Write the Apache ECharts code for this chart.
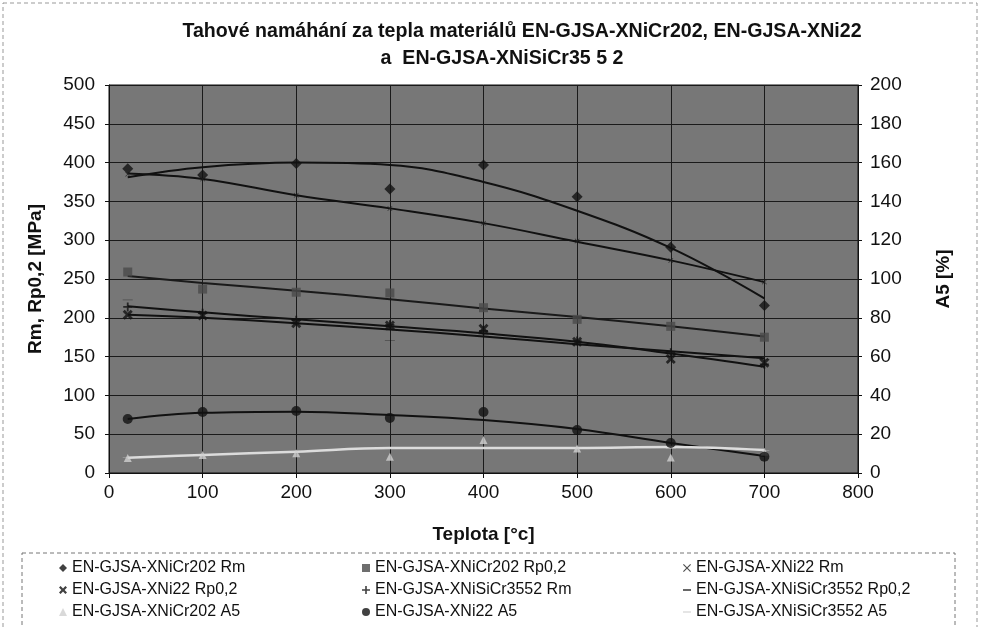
<!DOCTYPE html>
<html><head><meta charset="utf-8">
<script src="https://cdn.jsdelivr.net/npm/echarts@6/dist/echarts.min.js"></script>
<style>html,body{margin:0;padding:0;background:#fff}#c{width:981px;height:627px}</style>
</head><body><div id="c"></div>
<script>
// ---- data ----
const titleLine1 = 'Tahové namáhání za tepla materiálů EN-GJSA-XNiCr202, EN-GJSA-XNi22';
const titleLine2 = 'a  EN-GJSA-XNiSiCr35 5 2';
const seriesNames = ['EN-GJSA-XNiCr202 Rm','EN-GJSA-XNiCr202 Rp0,2','EN-GJSA-XNi22 Rm','EN-GJSA-XNi22 Rp0,2','EN-GJSA-XNiSiCr3552 Rm','EN-GJSA-XNiSiCr3552 Rp0,2','EN-GJSA-XNiCr202 A5','EN-GJSA-XNi22 A5','EN-GJSA-XNiSiCr3552 A5'];
const temps = [20, 100, 200, 300, 400, 500, 600, 700];
// measured points (left axis MPa)
const niCr202Rm   = [392, 384, 399, 366, 397, 356, 291, 216];
const niCr202Rp   = [259, 237, 233, 232, 213, 198, 189, 175];
const ni22Rm      = [385, 379, 358, 341, 322, 299, 274, 246];
const ni22Rp      = [204, 203, 193, 190, 186, 169, 147, 142];
const siCrRm      = [214, 206, 197, 191, 183, 170, 155, 140];
const siCrRp      = [223, 205, 192, 171, 178, 165, 152, 146];
// measured points (right axis %)
const niCr202A5   = [7.7, 9.3, 10.2, 8.4, 17, 12.6, 8, 11];
const ni22A5      = [27.8, 31.4, 32, 28.4, 31.4, 22.2, 15.5, 8.4];
const siCrA5      = [8, 9.5, 11, 12.5, 13, 13, 12.5, 11.5];
// trend curves
const trendNiCr202Rm = [381, 394, 400, 397, 375, 338, 290, 225];
const trendNi22Rm    = [386, 379, 358, 341, 322, 298, 274, 246];
const trendNiCr202Rp = [254, 245, 235, 224, 212, 201, 189, 176];
const trendSiCrRm    = [215, 207, 198, 189, 180, 169, 154, 137];
const trendNi22Rp    = [204, 200, 193, 185, 176, 166, 157, 148];
const trendNi22A5    = [27.8, 31, 31.6, 29.9, 27.3, 22.7, 15.5, 8.8];
const trendLightA5   = [7.9, 9.3, 11, 12.9, 12.9, 12.9, 13.4, 11.8];
// axes
const xTicks = {min: 0, max: 800, interval: 100};
const yLeft  = {min: 0, max: 500, interval: 50};
const yRight = {min: 0, max: 200, interval: 20};

const pairs = v => temps.map((t, i) => [t, v[i]]);
const X = 'path://M0,1L1,0L5,4L9,0L10,1L6,5L10,9L9,10L5,6L1,10L0,9L4,5Z';
const XB = 'path://M0,2L2,0L5,3L8,0L10,2L7,5L10,8L8,10L5,7L2,10L0,8L3,5Z';
const PLUS = 'path://M4,0H6V4H10V6H6V10H4V6H0V4H4Z';
const DASH = 'path://M0,0H10V2H0Z';
const F = 'Liberation Sans, Arial, sans-serif';

function pts(name, data, symbol, size, color, yIdx) {
  return {name, type: 'scatter', data: pairs(data), symbol, symbolSize: size, symbolKeepAspect: true,
    yAxisIndex: yIdx, itemStyle: {color}, z: 4, silent: true};
}
function trend(data, color, yIdx, w) {
  return {type: 'line', data: pairs(data), smooth: 0.4, showSymbol: false, yAxisIndex: yIdx,
    lineStyle: {color, width: w || 2}, z: 3, silent: true};
}
const series = [
  pts(seriesNames[0], niCr202Rm, 'diamond', 11, '#111', 0),
  pts(seriesNames[1], niCr202Rp, 'rect', 9, '#4a4a4a', 0),
  pts(seriesNames[2], ni22Rm, X, 5, '#222', 0),
  pts(seriesNames[3], ni22Rp, XB, 10, '#111', 0),
  pts(seriesNames[4], siCrRm, PLUS, 9, '#111', 0),
  pts(seriesNames[5], siCrRp, DASH, [10, 2], '#111', 0),
  pts(seriesNames[6], niCr202A5, 'triangle', 8, '#cfcfcf', 1),
  pts(seriesNames[7], ni22A5, 'circle', 10, '#111', 1),
  pts(seriesNames[8], siCrA5, DASH, [10, 2], '#d6d6d6', 1),
  trend(trendNiCr202Rm, '#111', 0),
  trend(trendNi22Rm, '#111', 0),
  trend(trendNiCr202Rp, '#1a1a1a', 0),
  trend(trendSiCrRm, '#111', 0),
  trend(trendNi22Rp, '#111', 0),
  trend(trendNi22A5, '#111', 1),
  trend(trendLightA5, '#dcdcdc', 1, 2.5)
];
const legIcons = ['diamond', 'rect', X, XB, PLUS, 'path://M0,4H10V6H0Z', 'triangle', 'circle', 'path://M0,4H10V6H0Z'];
const legColX = [63, 366, 687];
const legRowY = [567, 589, 611];
const legends = seriesNames.map((n, i) => ({
  left: legColX[i % 3] - 4, top: legRowY[Math.floor(i / 3)] - 8, padding: 0, orient: 'vertical',
  itemWidth: 8, itemHeight: 8, selectedMode: false,
  textStyle: {fontFamily: F, fontSize: 16, color: '#111', lineHeight: 18},
  data: [{name: n, icon: legIcons[i]}]
}));
const chart = echarts.init(document.getElementById('c'), null, {renderer: 'canvas'});
chart.setOption({
  animation: false,
  backgroundColor: '#fff',
  title: [
    {text: titleLine1, left: 517, top: 17, textAlign: 'center',
      textStyle: {fontFamily: F, fontSize: 19.6, fontWeight: 'bold', color: '#111'}},
    {text: titleLine2, left: 497, top: 44, textAlign: 'center',
      textStyle: {fontFamily: F, fontSize: 19.6, fontWeight: 'bold', color: '#111'}}
  ],
  grid: {left: 109, right: 123, top: 85, bottom: 154, show: true, backgroundColor: '#777777',
    borderColor: '#111', borderWidth: 1},
  legend: legends,
  xAxis: {type: 'value', min: xTicks.min, max: xTicks.max, interval: xTicks.interval,
    name: 'Teplota [°c]', nameLocation: 'middle', nameGap: 52,
    nameTextStyle: {fontFamily: F, fontSize: 19, fontWeight: 'bold', color: '#111'},
    axisLine: {lineStyle: {color: '#111'}}, axisTick: {show: true, length: 5, lineStyle: {color: '#111'}},
    axisLabel: {fontFamily: F, fontSize: 19, color: '#111', margin: 10},
    splitLine: {show: true, lineStyle: {color: '#1a1a1a', width: 1}}},
  yAxis: [
    {type: 'value', min: yLeft.min, max: yLeft.max, interval: yLeft.interval,
      name: 'Rm, Rp0,2 [MPa]', nameLocation: 'middle', nameGap: 64, nameRotate: 90,
      nameTextStyle: {fontFamily: F, fontSize: 19, fontWeight: 'bold', color: '#111'},
      axisLine: {show: true, lineStyle: {color: '#111'}}, axisTick: {show: true, length: 4, lineStyle: {color: '#111'}},
      axisLabel: {fontFamily: F, fontSize: 19, color: '#111', margin: 14},
      splitLine: {show: true, lineStyle: {color: '#1a1a1a', width: 1}}},
    {type: 'value', min: yRight.min, max: yRight.max, interval: yRight.interval, position: 'right',
      name: 'A5 [%]', nameLocation: 'middle', nameGap: 76, nameRotate: 90,
      nameTextStyle: {fontFamily: F, fontSize: 19, fontWeight: 'bold', color: '#111'},
      axisLine: {show: true, lineStyle: {color: '#111'}}, axisTick: {show: true, length: 4, lineStyle: {color: '#111'}},
      axisLabel: {fontFamily: F, fontSize: 19, color: '#111', margin: 12},
      splitLine: {show: false}}
  ],
  graphic: [
    {type: 'rect', shape: {x: 3, y: 3, width: 974, height: 640}, silent: true,
      style: {fill: null, stroke: '#999', lineWidth: 1, lineDash: [4, 3]}},
    {type: 'rect', shape: {x: 22, y: 553, width: 933, height: 90}, silent: true,
      style: {fill: null, stroke: '#777', lineWidth: 1, lineDash: [4, 3]}}
  ],
  series
});
</script></body></html>
